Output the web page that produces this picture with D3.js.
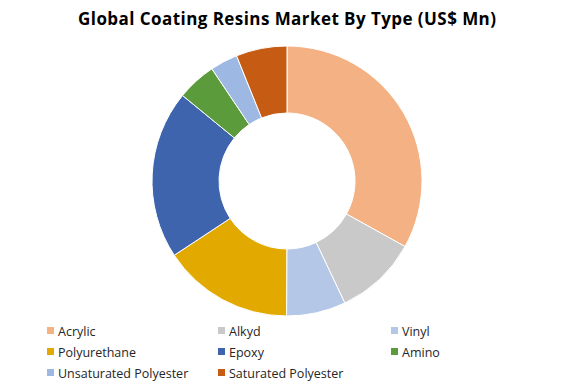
<!DOCTYPE html>
<html>
<head>
<meta charset="utf-8">
<script src="https://cdn.jsdelivr.net/npm/d3@7"></script>
<style>
  body { margin: 0; background: #fff; }
  svg { display: block; }
</style>
</head>
<body>
<svg id="chart" width="576" height="384"></svg>
<script>
// data (share in %)
const categories = ['Acrylic', 'Alkyd', 'Vinyl', 'Polyurethane', 'Epoxy', 'Amino',
    'Unsaturated Polyester', 'Saturated Polyester'];
const values = [33.1, 9.9, 7.1, 15.7, 20.2, 4.7, 3.3, 6.1];
const colors = ['#F4B183', '#C9C9C9', '#B4C7E7', '#E2AA00', '#3E64AE', '#5B9B3C',
    '#9DB8E2', '#C65B14'];

const svg = d3.select('#chart');
const width = +svg.attr('width');

// title
svg.append('text')
        .attr('x', 287)
        .attr('y', 25)
        .attr('text-anchor', 'middle')
        .attr('font-family', 'Open Sans, sans-serif')
        .attr('font-weight', 'bold')
        .attr('font-size', 17)
        .attr('textLength', 418)
        .attr('lengthAdjust', 'spacing')
        .attr('fill', '#000')
        .text('Global Coating Resins Market By Type (US$ Mn)');

// donut
const cx = 287;
const cy = 181;
const outerR = 135;
const innerR = 68;

const pie = d3.pie()
        .sort(null)
        .value(d => d.value);
const arc = d3.arc()
        .innerRadius(innerR)
        .outerRadius(outerR);

const data = categories.map((c, i) => ({ name: c, value: values[i], color: colors[i] }));

const g = svg.append('g')
        .attr('transform', `translate(${cx}, ${cy})`);
g.selectAll('path.slice')
        .data(pie(data))
        .enter()
        .append('path')
        .attr('class', 'slice')
        .attr('d', arc)
        .attr('fill', d => d.data.color)
        .attr('stroke', '#fff')
        .attr('stroke-width', 1);

// legend, 3 columns
const colX = [47, 218, 391];
const rowY = [331, 352, 373];
const legend = svg.append('g');
const item = legend.selectAll('g.item')
        .data(data)
        .enter()
        .append('g')
        .attr('class', 'item')
        .attr('transform', (d, i) => `translate(${colX[i % 3]}, ${rowY[Math.floor(i / 3)]})`);
item.append('rect')
        .attr('x', 0)
        .attr('y', -4)
        .attr('width', 7)
        .attr('height', 7)
        .attr('fill', d => d.color);
item.append('text')
        .attr('x', 11)
        .attr('y', 5)
        .attr('font-family', 'Open Sans, sans-serif')
        .attr('font-size', 12.5)
        .attr('fill', '#262626')
        .text(d => d.name);
</script>
</body>
</html>
